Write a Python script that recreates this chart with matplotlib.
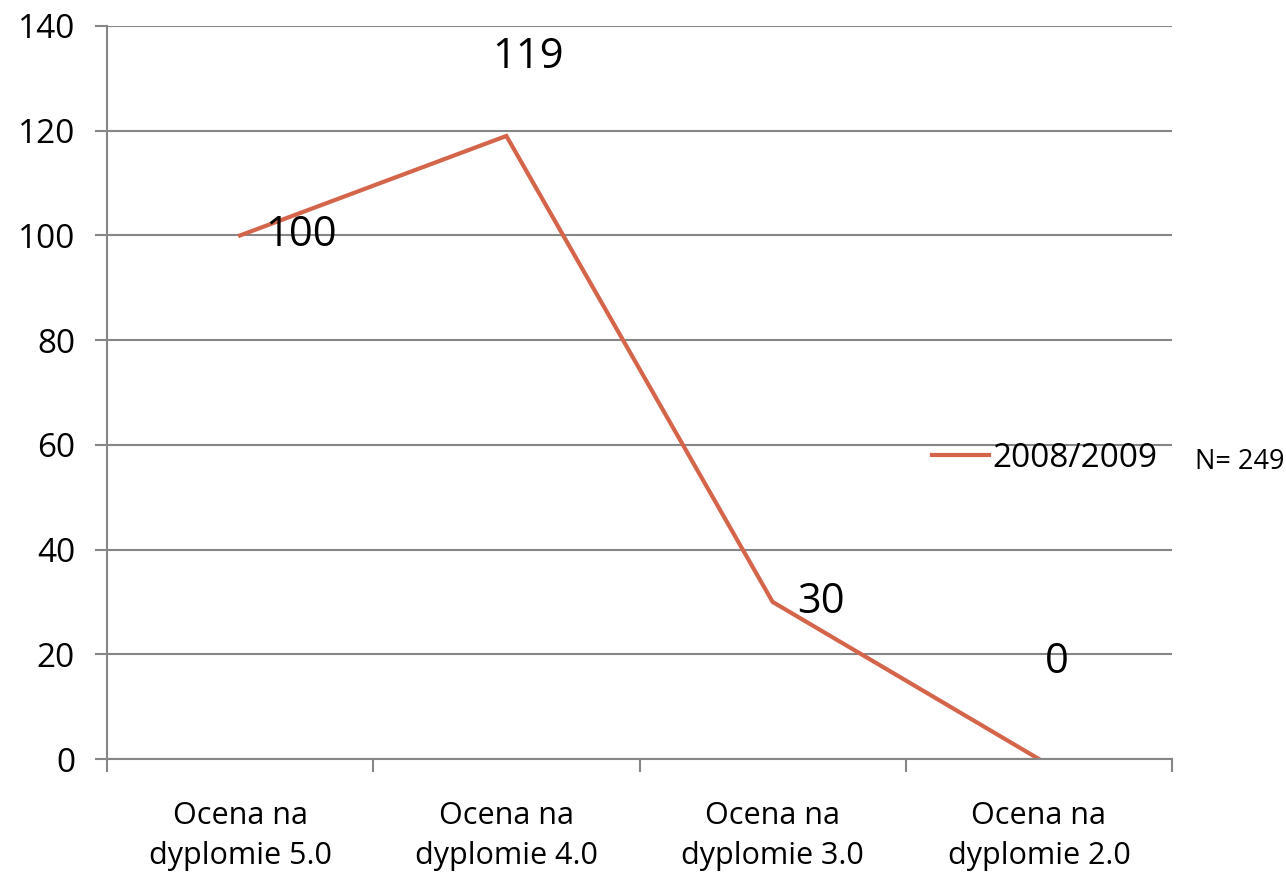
import matplotlib
matplotlib.use("Agg")
import matplotlib.pyplot as plt

categories = ["Ocena na\ndyplomie 5.0", "Ocena na\ndyplomie 4.0",
              "Ocena na\ndyplomie 3.0", "Ocena na\ndyplomie 2.0"]
values = [100, 119, 30, 0]
series_name = "2008/2009"
note = "N= 249"

# label offsets in pixels, roughly as placed in the original
label_offsets = [(25, 0), (22, 79), (25, 0), (18, 97)]
label_ha = ["left", "center", "left", "center"]

plt.rcParams["font.family"] = ["Open Sans", "DejaVu Sans"]

fig = plt.figure(figsize=(12.86, 8.80), dpi=100)
ax = fig.add_axes([107 / 1286, 1 - 759 / 880, (1172 - 107) / 1286, (759 - 26) / 880])

grid_c = "#868686"
line_c = "#D4654A"

x = list(range(len(categories)))
ax.plot(x, values, color=line_c, lw=3, label=series_name, solid_joinstyle="miter")

for xi, v, off, ha in zip(x, values, label_offsets, label_ha):
    ax.annotate(str(v), (xi, v), xytext=off, textcoords="offset pixels",
                ha=ha, va="center", fontsize=30)

ax.set_xlim(-0.5, len(categories) - 0.5)
ax.set_ylim(0, 140)
ax.set_yticks(range(0, 141, 20))
ax.yaxis.grid(True, color=grid_c, lw=1.5)
ax.set_axisbelow(True)

ax.set_xticks(x)
ax.set_xticklabels(categories, fontsize=22, linespacing=1.45)
ax.set_xticks([i - 0.5 for i in range(len(categories) + 1)], minor=True)
ax.tick_params(axis="x", which="major", length=0, pad=30)
ax.tick_params(axis="x", which="minor", length=9, width=1.5, color=grid_c)
ax.tick_params(axis="y", length=9, width=1.5, color=grid_c, labelsize=24, pad=14)

for s in ["top", "right"]:
    ax.spines[s].set_visible(False)
for s in ["left", "bottom"]:
    ax.spines[s].set_color(grid_c)
    ax.spines[s].set_linewidth(1.5)

ax.legend(loc="center left", bbox_to_anchor=(902 / 1286, 1 - 458 / 880),
          bbox_transform=fig.transFigure, frameon=False, fontsize=24,
          handlelength=1.7, handletextpad=0.1)

fig.text(1195 / 1286, 1 - 462 / 880, note, fontsize=19.5, va="center", ha="left")

fig.savefig("out.png", dpi=100)
